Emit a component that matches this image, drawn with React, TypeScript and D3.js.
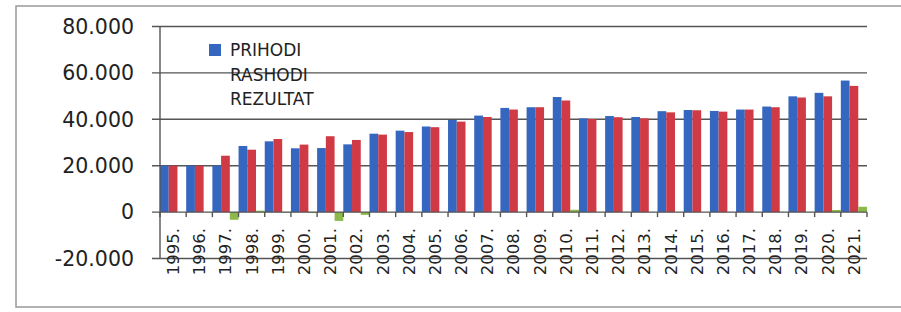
import * as d3 from "d3";

const years = [
  "1995.", "1996.", "1997.", "1998.", "1999.", "2000.", "2001.", "2002.", "2003.",
  "2004.", "2005.", "2006.", "2007.", "2008.", "2009.", "2010.", "2011.", "2012.",
  "2013.", "2014.", "2015.", "2016.", "2017.", "2018.", "2019.", "2020.", "2021.",
];
const prihodi = [
  20000, 20000, 20000, 28500, 30500, 27500, 27600, 29200, 33800,
  35100, 36900, 39700, 41600, 44900, 45200, 49600, 40400, 41400,
  41000, 43500, 44000, 43600, 44200, 45500, 49900, 51400, 56700,
];
const rashodi = [
  20000, 20000, 24300, 26900, 31500, 29100, 32700, 31100, 33400,
  34500, 36600, 39000, 41000, 44200, 45200, 48100, 40100, 40900,
  40400, 43000, 43900, 43300, 44200, 45200, 49400, 49900, 54400,
];
const rezultat = [
  0, 0, -3300, 600, -300, -400, -3800, -1200, 0,
  0, 0, 0, 0, 0, 0, 1000, 0, 0,
  0, 0, 0, 0, 0, 0, 0, 900, 2300,
];
const seriesNames = ["PRIHODI", "RASHODI", "REZULTAT"];
const seriesColors = ["#3566c0", "#cf3a45", "#8cba4a"];
const yTicks = [-20000, 0, 20000, 40000, 60000, 80000];

// Croatian style thousands: 20.000, plain hyphen for negatives
const fmt = (v: number) =>
  v === 0 ? "0" : d3.format(",")(v).replace(/,/g, ".").replace("\u2212", "-");

export default function App() {
  const width = 901;
  const height = 312;
  const x = d3.scaleBand<string>().domain(years).range([160, 867]).padding(0);
  const xs = d3
    .scaleBand<string>()
    .domain(seriesNames)
    .range([0, x.bandwidth()])
    .padding(0);
  const y = d3.scaleLinear().domain([-20000, 80000]).range([258.5, 26.5]);
  const data = [prihodi, rashodi, rezultat];
  const axisColor = "#555";
  const font = "DejaVu Sans, sans-serif";

  return (
    <svg
      width={width}
      height={height}
      style={{ position: "absolute", left: 0, top: 0, background: "#fff" }}
    >
      <rect x={16} y={6} width={900} height={301} fill="#fff" stroke="#999" strokeWidth={1.5} />

      {/* gridlines + y labels */}
      {yTicks.map((t) => (
        <g key={t}>
          {t !== 0 && (
            <line x1={152} x2={867} y1={y(t)} y2={y(t)} stroke={axisColor} strokeWidth={1.4} />
          )}
          <text
            x={134}
            y={y(t)}
            dy="0.36em"
            textAnchor="end"
            fontFamily={font}
            fontSize={20.5}
            fill="#222"
          >
            {fmt(t)}
          </text>
        </g>
      ))}

      {/* bars */}
      {data.map((vals, si) =>
        vals.map((v, i) => (
          <rect
            key={`${si}-${i}`}
            x={(x(years[i]) ?? 0) + (xs(seriesNames[si]) ?? 0)}
            y={y(Math.max(0, v))}
            width={xs.bandwidth()}
            height={Math.abs(y(v) - y(0))}
            fill={seriesColors[si]}
          />
        ))
      )}

      {/* zero axis with ticks */}
      <line x1={152} x2={867} y1={y(0)} y2={y(0)} stroke={axisColor} strokeWidth={1.4} />
      {years.map((yr) => (
        <line
          key={yr}
          x1={x(yr) ?? 0}
          x2={x(yr) ?? 0}
          y1={y(0)}
          y2={y(0) + 5}
          stroke={axisColor}
          strokeWidth={1.4}
        />
      ))}
      <line x1={867} x2={867} y1={y(0)} y2={y(0) + 5} stroke={axisColor} strokeWidth={1.4} />

      {/* y axis */}
      <line x1={160} x2={160} y1={y(80000)} y2={y(-20000)} stroke={axisColor} strokeWidth={1.4} />

      {/* year labels */}
      {years.map((yr) => {
        const cx = (x(yr) ?? 0) + x.bandwidth() / 2;
        return (
          <text
            key={yr}
            transform={`translate(${cx},${y(0) + 16}) rotate(-90)`}
            dy="0.36em"
            textAnchor="end"
            fontFamily={font}
            fontSize={16.5}
            fill="#222"
          >
            {yr}
          </text>
        );
      })}

      {/* legend */}
      {seriesNames.map((name, i) => (
        <g key={name} transform={`translate(209,${50 + i * 24.5})`}>
          {i === 0 && <rect x={0} y={-6} width={12} height={12} fill={seriesColors[i]} />}
          <text x={21} dy="0.36em" fontFamily={font} fontSize={17} fill="#222">
            {name}
          </text>
        </g>
      ))}
    </svg>
  );
}
